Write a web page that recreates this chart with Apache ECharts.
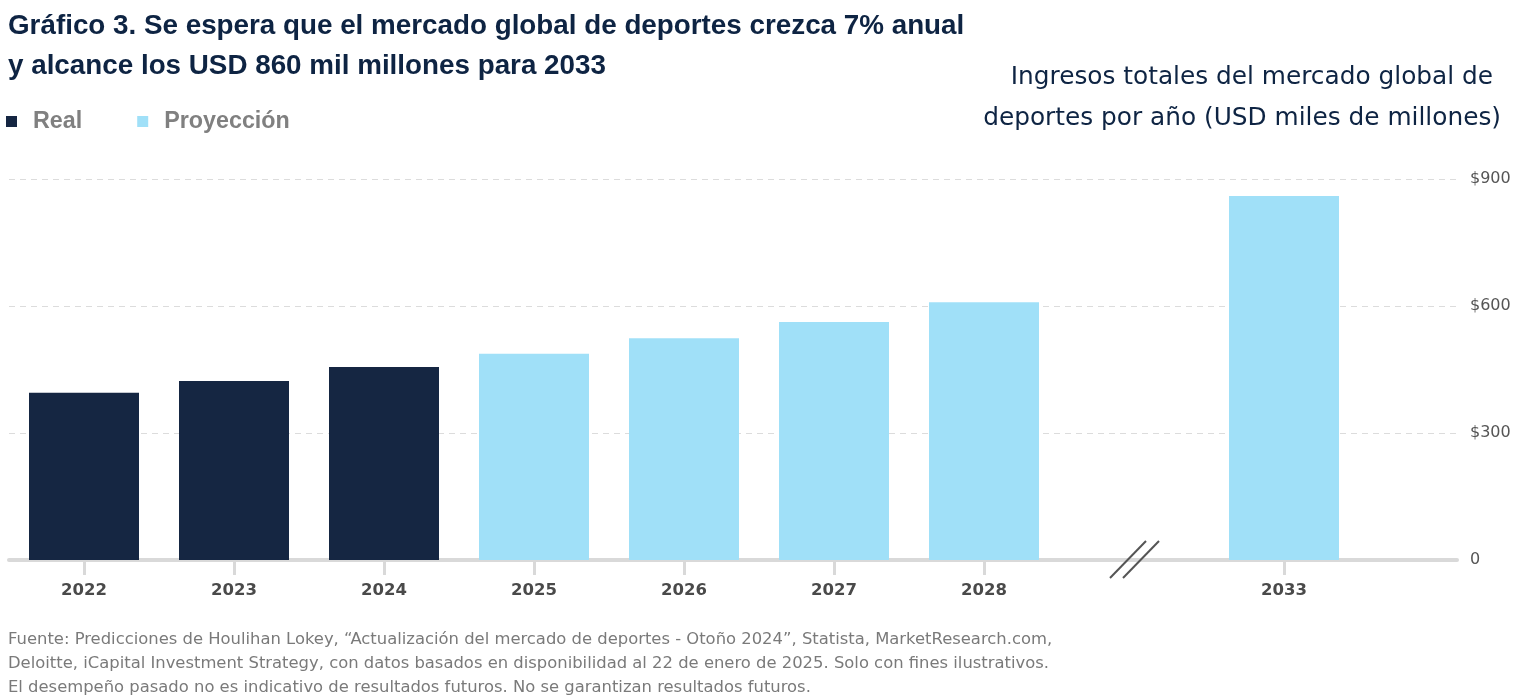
<!DOCTYPE html>
<html>
<head>
<meta charset="utf-8">
<script src="https://cdn.jsdelivr.net/npm/echarts@6/dist/echarts.min.js"></script>
<style>
  html, body { margin: 0; padding: 0; background: #fff; }
  #chart { width: 1518px; height: 699px; }
</style>
</head>
<body>
<div id="chart"></div>
<script>
// datos (USD miles de millones)
const years = ['2022', '2023', '2024', '2025', '2026', '2027', '2028', '', '2033'];
const realValues = [395, 423, 456, '-', '-', '-', '-', '-', '-'];
const projectionValues = ['-', '-', '-', 487, 524, 562, 609, '-', 860];
const yTicks = [0, 300, 600, 900];

const titleLines = [
    'Gráfico 3. Se espera que el mercado global de deportes crezca 7% anual',
    'y alcance los USD 860 mil millones para 2033'
];
const unitLines = [
    'Ingresos totales del mercado global de',
    'deportes por año (USD miles de millones)'
];
const sourceLines = [
    'Fuente: Predicciones de Houlihan Lokey, “Actualización del mercado de deportes - Otoño 2024”, Statista, MarketResearch.com,',
    'Deloitte, iCapital Investment Strategy, con datos basados en disponibilidad al 22 de enero de 2025. Solo con fines ilustrativos.',
    'El desempeño pasado no es indicativo de resultados futuros. No se garantizan resultados futuros.'
];

const navy = '#152642';
const lightBlue = '#a0e0f8';
const breakIndex = years.indexOf('');

const unitStyle = { fontFamily: 'DejaVu Sans', fontWeight: 'normal', fontSize: 24.8, color: '#0e2443' };

const chart = echarts.init(document.getElementById('chart'));

const option = {
    animation: false,
    backgroundColor: '#fff',
    title: [
        {
            text: titleLines.join('\n'),
            left: 3, top: 1,
            textStyle: { fontFamily: 'Liberation Sans', fontWeight: 'bold', fontSize: 27.8, color: '#0e2443', lineHeight: 40 }
        },
        // cada línea del título de unidades va alineada a la derecha
        { text: unitLines[0], right: 20, top: 60, textStyle: unitStyle },
        { text: unitLines[1], right: 12, top: 101, textStyle: unitStyle },
        {
            text: sourceLines.join('\n'),
            left: 3, top: 623,
            textStyle: { fontFamily: 'DejaVu Sans', fontWeight: 'normal', fontSize: 16.4, color: '#7a7a7a', lineHeight: 24 }
        }
    ],
    legend: {
        left: 1, top: 105,
        icon: 'rect',
        itemWidth: 11, itemHeight: 11,
        itemGap: 55,
        textStyle: { fontFamily: 'Liberation Sans', fontWeight: 'bold', fontSize: 23.3, color: '#808080', padding: [0, 0, 0, 11] },
        data: ['Real', 'Proyección']
    },
    grid: [
        { left: 9, width: 1350, top: 179, bottom: 139, containLabel: false },
        { left: 9, right: 61, top: 179, bottom: 139, containLabel: false }
    ],
    xAxis: [
        {
            type: 'category', gridIndex: 0, data: years,
            axisLine: { show: false },
            axisTick: {
                show: true, alignWithLabel: true, length: 15,
                interval: (i, v) => v !== '',
                lineStyle: { color: '#d9d9d9', width: 3 }
            },
            axisLabel: { margin: 22, fontFamily: 'DejaVu Sans', fontWeight: 'bold', fontSize: 16.5, color: '#4a4a4a' }
        },
        {
            type: 'value', gridIndex: 1, min: 0, max: 1,
            axisLine: { show: true, onZero: false, lineStyle: { color: '#d9d9d9', width: 4 } },
            axisTick: { show: false }, axisLabel: { show: false }, splitLine: { show: false }
        }
    ],
    yAxis: [
        {
            type: 'value', gridIndex: 0, min: 0, max: 900, interval: 300,
            show: false
        },
        {
            type: 'value', gridIndex: 1, position: 'right', min: 0, max: 900, interval: 300,
            axisLine: { show: false }, axisTick: { show: false },
            axisLabel: {
                margin: 13, fontFamily: 'DejaVu Sans', fontSize: 16, color: '#555',
                formatter: v => yTicks.includes(v) ? (v === 0 ? '0' : '$' + v) : ''
            },
            splitLine: { show: true, lineStyle: { color: '#dcdcdc', type: [6, 5], width: 1 } }
        }
    ],
    series: [
        {
            name: 'Real', type: 'bar', xAxisIndex: 0, yAxisIndex: 0,
            barWidth: 110, barGap: '-100%',
            itemStyle: { color: navy },
            data: realValues
        },
        {
            name: 'Proyección', type: 'bar', xAxisIndex: 0, yAxisIndex: 0,
            barWidth: 110, barGap: '-100%',
            itemStyle: { color: lightBlue },
            data: projectionValues
        }
    ]
};

chart.setOption(option);

// marca de corte del eje (//) centrada en la categoría vacía
const bx = chart.convertToPixel({ xAxisIndex: 0 }, breakIndex);
const by = chart.convertToPixel({ yAxisIndex: 0 }, 0);
chart.setOption({
    graphic: [
        { type: 'line', shape: { x1: bx - 24, y1: by + 18, x2: bx + 12, y2: by - 19 }, style: { stroke: '#555', lineWidth: 2 }, z: 10 },
        { type: 'line', shape: { x1: bx - 11, y1: by + 18, x2: bx + 25, y2: by - 19 }, style: { stroke: '#555', lineWidth: 2 }, z: 10 }
    ]
});
</script>
</body>
</html>
